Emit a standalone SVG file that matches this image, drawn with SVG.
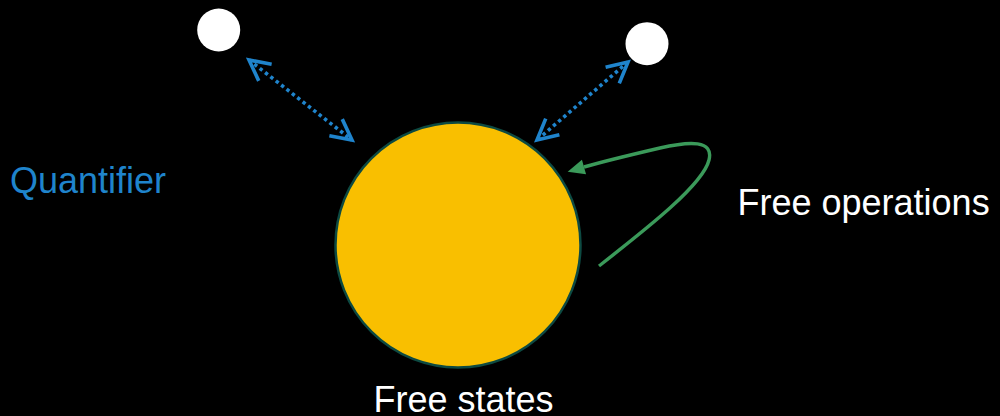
<svg xmlns="http://www.w3.org/2000/svg" width="1000" height="416" viewBox="0 0 1000 416">
  <style>
    .bg { fill: #000000; }
    .small { fill: #ffffff; }
    .big { fill: #f9bf00; stroke: #0d4a42; stroke-width: 2.5; }
    .dotted { fill: none; stroke: #1f84cc; stroke-width: 3.6; stroke-dasharray: 3.4 3.4; }
    .green { fill: none; stroke: #3b9a5a; stroke-width: 3.4; }
    .label { font-family: "Liberation Sans", Arial, sans-serif; font-size: 36px; }
  </style>
  <defs>
    <marker id="openBlue" markerUnits="userSpaceOnUse" viewBox="-25 -15 30 30" markerWidth="30" markerHeight="30" refX="0" refY="0" orient="auto-start-reverse" overflow="visible">
      <path d="M -20.5,-10.5 L 0,0 L -20.5,10.5" fill="none" stroke="#1f84cc" stroke-width="3.6" stroke-dasharray="none" stroke-linejoin="miter"/>
    </marker>
    <marker id="fillGreen" markerUnits="userSpaceOnUse" viewBox="0 -10 20 20" markerWidth="20" markerHeight="20" refX="0" refY="0" orient="auto" overflow="visible">
      <path d="M 0,-7.5 L 17,0 L 0,7.5 z" fill="#3b9a5a" stroke="none"/>
    </marker>
  </defs>
  <rect class="bg" x="0" y="0" width="1000" height="416"/>

  <g id="connectors">
    <line class="dotted" x1="249" y1="60" x2="352" y2="140" marker-start="url(#openBlue)" marker-end="url(#openBlue)"/>
    <line class="dotted" x1="628" y1="62" x2="537" y2="140" marker-start="url(#openBlue)" marker-end="url(#openBlue)"/>
    <path class="green" d="M599,266 C 645,230 703,185 709,160 C 714,140 690,141 660,148 C 630,155 605,161 584,167" marker-end="url(#fillGreen)"/>
  </g>

  <g id="quantifier-state-1">
    <circle class="small" cx="218.7" cy="30" r="21.5"/>
  </g>
  <g id="quantifier-state-2">
    <circle class="small" cx="647" cy="43.7" r="21.5"/>
  </g>
  <g id="free-states">
    <circle class="big" cx="458" cy="245" r="122.5"/>
    <text class="label" x="463.5" y="412" fill="#ffffff" text-anchor="middle">Free states</text>
  </g>
  <g id="quantifier-label">
    <text class="label" x="10" y="193.3" fill="#1f84cc">Quantifier</text>
  </g>
  <g id="free-operations-label">
    <text class="label" x="737.5" y="215" fill="#ffffff">Free operations</text>
  </g>
</svg>
